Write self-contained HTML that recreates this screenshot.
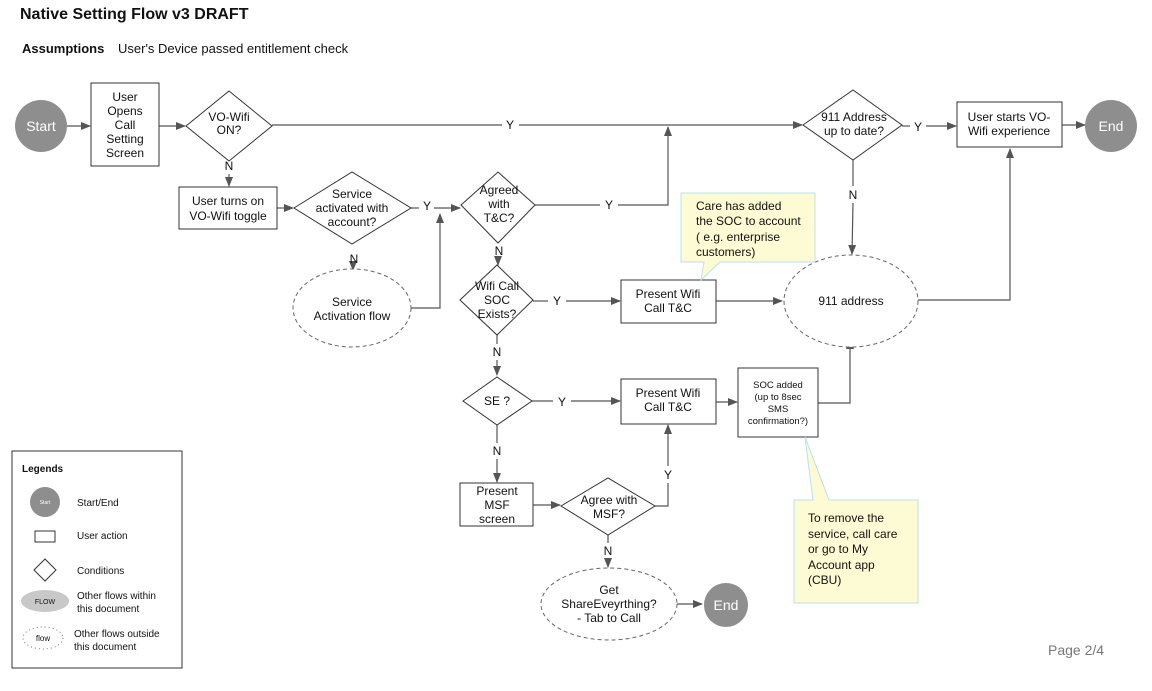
<!DOCTYPE html>
<html><head><meta charset="utf-8"><style>
html,body{margin:0;padding:0;background:#fff;}
svg{display:block;}
text{font-family:"Liberation Sans",Arial,sans-serif;fill:#111;font-size:12px;}
.c{text-anchor:middle;}
.s{fill:none;stroke:#333;stroke-width:1;}
.l{fill:none;stroke:#555;stroke-width:1.2;}
.d{fill:#fff;stroke:#666;stroke-width:1;stroke-dasharray:4,3;}
.w{fill:#fff;}
</style></head><body>
<svg width="1152" height="691" viewBox="0 0 1152 691" xmlns="http://www.w3.org/2000/svg">
<defs><marker id="a" markerWidth="10" markerHeight="8" refX="9" refY="4" orient="auto" markerUnits="userSpaceOnUse"><path d="M0,0 L10,4 L0,8 z" fill="#555"/></marker></defs>

<text x="20" y="19" style="font-size:16px;font-weight:bold">Native Setting Flow v3 DRAFT</text>
<text x="22" y="53" style="font-size:13px;font-weight:bold">Assumptions</text>
<text x="118" y="53" style="font-size:13px">User's Device passed entitlement check</text>

<g class="l">
<line x1="67" y1="126" x2="90" y2="126" marker-end="url(#a)"/>
<line x1="159" y1="126" x2="185" y2="126" marker-end="url(#a)"/>
<line x1="272" y1="125" x2="502" y2="125"/><line x1="519" y1="125" x2="802" y2="125" marker-end="url(#a)"/>
<line x1="229" y1="174" x2="229" y2="186" marker-end="url(#a)"/>
<line x1="277" y1="208" x2="293" y2="208" marker-end="url(#a)"/>
<line x1="411" y1="208" x2="419" y2="208"/><line x1="434" y1="208" x2="460" y2="208" marker-end="url(#a)"/>
<polyline points="411,308 440,308 440,214" marker-end="url(#a)"/>
<line x1="353" y1="265" x2="353" y2="270" marker-end="url(#a)"/>
<polyline points="535,205 600,205"/><polyline points="618,205 668,205 668,127" marker-end="url(#a)"/>
<line x1="498" y1="258" x2="498" y2="265" marker-end="url(#a)"/>
<line x1="533" y1="301" x2="548" y2="301"/><line x1="566" y1="301" x2="620" y2="301" marker-end="url(#a)"/>
<line x1="716" y1="301" x2="782" y2="301" marker-end="url(#a)"/>
<line x1="497" y1="335" x2="497" y2="344"/><line x1="497" y1="360" x2="497" y2="375" marker-end="url(#a)"/>
<line x1="532" y1="401" x2="553" y2="401"/><line x1="571" y1="401" x2="620" y2="401" marker-end="url(#a)"/>
<line x1="716" y1="402" x2="737" y2="402" marker-end="url(#a)"/>
<polyline points="818,403 850,403 850,340" marker-end="url(#a)"/>
<line x1="497" y1="424" x2="497" y2="443"/><line x1="497" y1="459" x2="497" y2="482" marker-end="url(#a)"/>
<line x1="533" y1="505" x2="560" y2="505" marker-end="url(#a)"/>
<polyline points="655,506 668,506 668,483"/><line x1="668" y1="466" x2="668" y2="425" marker-end="url(#a)"/>
<line x1="608" y1="535" x2="608" y2="543"/><line x1="608" y1="559" x2="608" y2="567" marker-end="url(#a)"/>
<line x1="677" y1="604" x2="702" y2="604" marker-end="url(#a)"/>
<line x1="902" y1="126" x2="910" y2="126"/><line x1="926" y1="126" x2="956" y2="126" marker-end="url(#a)"/>
<line x1="1062" y1="125" x2="1085" y2="125" marker-end="url(#a)"/>
<line x1="853" y1="160" x2="853" y2="186"/><line x1="853" y1="203" x2="852" y2="254" marker-end="url(#a)"/>
<polyline points="918,300 1010,300 1010,149" marker-end="url(#a)"/>
</g>
<text class="c" x="510" y="129">Y</text>

<circle cx="41" cy="126" r="26" fill="#8e8e8e"/>
<text x="41" y="131" class="c" style="fill:#fff;font-size:14px">Start</text>

<rect x="91" y="83" width="68" height="83" class="s w"/>
<text class="c" x="125" y="101">User</text><text class="c" x="125" y="115">Opens</text><text class="c" x="125" y="129">Call</text><text class="c" x="125" y="143">Setting</text><text class="c" x="125" y="157">Screen</text>

<polygon points="186,126 229,91 272,126 229,161" class="s w"/>
<text class="c" x="229" y="121">VO-Wifi</text><text class="c" x="229" y="134">ON?</text>
<text class="c" x="229" y="170">N</text>

<rect x="179" y="187" width="98" height="42" class="s w"/>
<text class="c" x="228" y="205">User turns on</text><text class="c" x="228" y="220">VO-Wifi toggle</text>

<polygon points="294,208 352,172 411,208 352,244" class="s w"/>
<text class="c" x="352" y="198">Service</text><text class="c" x="352" y="212">activated with</text><text class="c" x="352" y="226">account?</text>
<text class="c" x="427" y="210">Y</text>
<text class="c" x="354" y="263">N</text>

<ellipse cx="352" cy="308" rx="59" ry="39" class="d"/>
<text class="c" x="352" y="306">Service</text><text class="c" x="352" y="320">Activation flow</text>

<polygon points="461,205 498,172 535,205 498,243" class="s w"/>
<text class="c" x="499" y="194">Agreed</text><text class="c" x="499" y="208">with</text><text class="c" x="499" y="222">T&amp;C?</text>
<text class="c" x="609" y="209">Y</text>
<text class="c" x="499" y="255">N</text>

<polygon points="460,300 497,265 533,300 497,335" class="s w"/>
<text class="c" x="497" y="290">Wifi Call</text><text class="c" x="497" y="304">SOC</text><text class="c" x="497" y="318">Exists?</text>
<text class="c" x="557" y="305">Y</text>
<text class="c" x="497" y="356">N</text>

<rect x="621" y="280" width="95" height="43" class="s w"/>
<text class="c" x="668" y="298">Present Wifi</text><text class="c" x="668" y="312">Call T&amp;C</text>

<ellipse cx="851" cy="301" rx="67" ry="46" class="d"/>
<text class="c" x="851" y="305">911 address</text>

<polygon points="463,401 497,377 532,401 497,425" class="s w"/>
<text class="c" x="497" y="405">SE ?</text>
<text class="c" x="562" y="406">Y</text>
<text class="c" x="497" y="455">N</text>

<rect x="621" y="379" width="95" height="45" class="s w"/>
<text class="c" x="668" y="397">Present Wifi</text><text class="c" x="668" y="411">Call T&amp;C</text>

<rect x="738" y="368" width="80" height="69" class="s w"/>
<text class="c" x="778" y="388" style="font-size:9.5px">SOC added</text><text class="c" x="778" y="400" style="font-size:9.5px">(up to 8sec</text><text class="c" x="778" y="412" style="font-size:9.5px">SMS</text><text class="c" x="778" y="424" style="font-size:9.5px">confirmation?)</text>

<rect x="460" y="483" width="73" height="43" class="s w"/>
<text class="c" x="497" y="495">Present</text><text class="c" x="497" y="509">MSF</text><text class="c" x="497" y="523">screen</text>

<polygon points="561,506 608,478 655,506 608,535" class="s w"/>
<text class="c" x="609" y="504">Agree with</text><text class="c" x="609" y="518">MSF?</text>
<text class="c" x="668" y="479">Y</text>
<text class="c" x="608" y="555">N</text>

<ellipse cx="609" cy="604" rx="68" ry="36" class="d"/>
<text class="c" x="609" y="594">Get</text><text class="c" x="609" y="608">ShareEveyrthing?</text><text class="c" x="609" y="622">- Tab to Call</text>
<circle cx="726" cy="605" r="22" fill="#8e8e8e"/>
<text class="c" x="726" y="610" style="fill:#fff;font-size:14px">End</text>

<polygon points="803,125 853,90 902,125 853,160" class="s w"/>
<text class="c" x="854" y="121">911 Address</text><text class="c" x="854" y="135">up to date?</text>
<text class="c" x="918" y="131">Y</text>
<text class="c" x="853" y="199">N</text>

<rect x="957" y="102" width="105" height="45" class="s w"/>
<text class="c" x="1009" y="121">User starts VO-</text><text class="c" x="1009" y="135">Wifi experience</text>
<circle cx="1111" cy="126" r="26" fill="#8e8e8e"/>
<text class="c" x="1111" y="131" style="fill:#fff;font-size:14px">End</text>

<path d="M681,193 H815 V262 H720 L701,280 L704,262 H681 Z" fill="#fdfbd3" stroke="#b9e1ee" stroke-width="1"/>
<text x="696" y="210">Care has added</text><text x="696" y="225">the SOC to account</text><text x="696" y="241">( e.g. enterprise</text><text x="696" y="256">customers)</text>

<path d="M794,500 H813 L805,437 L829,500 H918 V603 H794 Z" fill="#fdfbd3" stroke="#b9e1ee" stroke-width="1"/>
<text x="808" y="522">To remove the</text><text x="808" y="538">service, call care</text><text x="808" y="553">or go to My</text><text x="808" y="569">Account app</text><text x="808" y="584">(CBU)</text>

<rect x="12" y="451" width="170" height="217" class="s w"/>
<text x="22" y="472" style="font-size:10px;font-weight:bold">Legends</text>
<circle cx="45" cy="502" r="15" fill="#8e8e8e"/>
<text class="c" x="45" y="504" style="fill:#fff;font-size:5px">Start</text>
<text x="77" y="506" style="font-size:10px">Start/End</text>
<rect x="35" y="531" width="20" height="11" class="s w"/>
<text x="77" y="539" style="font-size:10px">User action</text>
<polygon points="34,570 45,559 56,570 45,581" class="s w"/>
<text x="77" y="574" style="font-size:10px">Conditions</text>
<ellipse cx="45" cy="601" rx="24" ry="11" fill="#c8c8c8"/>
<text class="c" x="45" y="604" style="font-size:7px">FLOW</text>
<text x="77" y="599" style="font-size:10px">Other flows within</text><text x="77" y="612" style="font-size:10px">this document</text>
<ellipse cx="43" cy="638" rx="20" ry="11" fill="#fff" stroke="#777" stroke-dasharray="1,3"/>
<text class="c" x="43" y="641" style="font-size:8px">flow</text>
<text x="74" y="637" style="font-size:10px">Other flows outside</text><text x="74" y="650" style="font-size:10px">this document</text>

<text x="1048" y="655" style="font-size:14px;fill:#777">Page 2/4</text>
</svg>
</body></html>
